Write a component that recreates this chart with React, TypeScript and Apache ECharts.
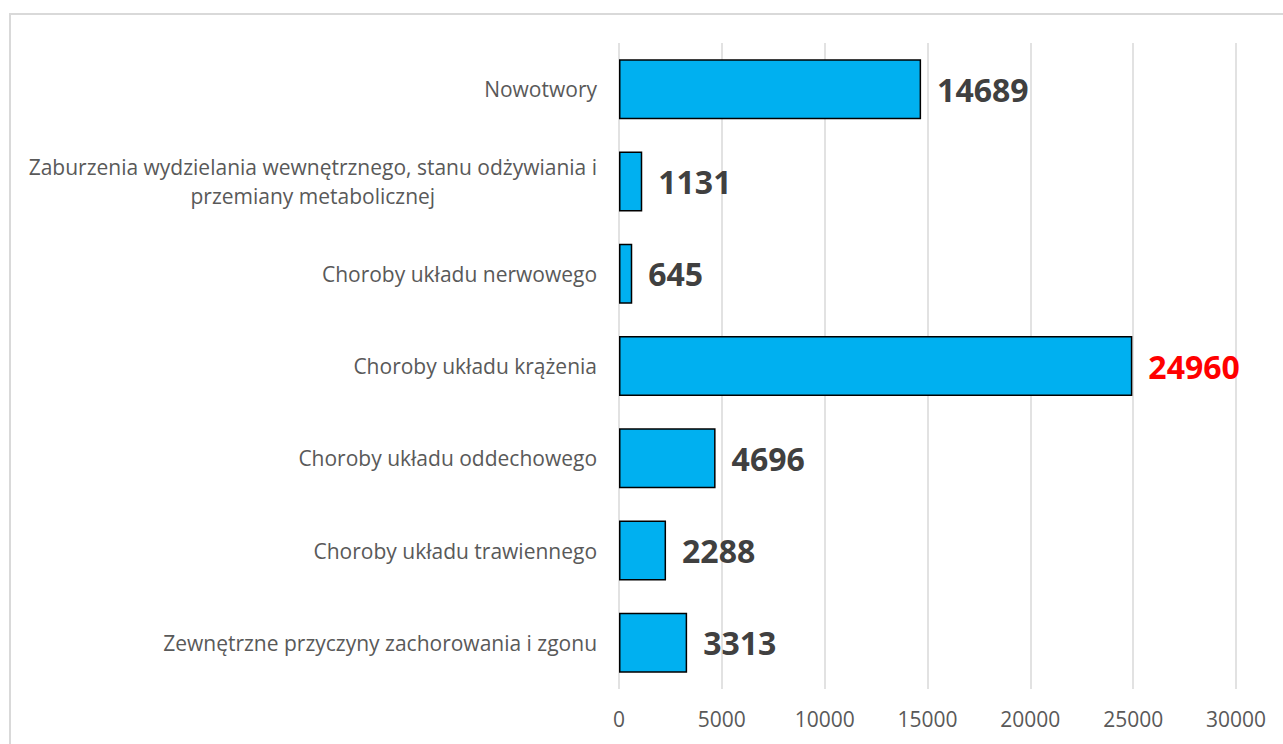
import React, { useEffect, useRef } from "react";
import * as echarts from "echarts";

const categories = [
  "Nowotwory",
  "Zaburzenia wydzielania wewnętrznego, stanu odżywiania i\nprzemiany metabolicznej",
  "Choroby układu nerwowego",
  "Choroby układu krążenia",
  "Choroby układu oddechowego",
  "Choroby układu trawiennego",
  "Zewnętrzne przyczyny zachorowania i zgonu",
];
const values = [14689, 1131, 645, 24960, 4696, 2288, 3313];
const highlighted = [false, false, false, true, false, false, false];
const axisMin = 0;
const axisMax = 30000;
const axisStep = 5000;

export default function App() {
  const ref = useRef<HTMLDivElement>(null);
  useEffect(() => {
    document.body.style.margin = "0";
    const chart = echarts.init(ref.current!, null, { renderer: "svg" });
    const font = "'Open Sans', sans-serif";
    chart.setOption({
      animation: false,
      backgroundColor: "#ffffff",
      graphic: [
        {
          type: "rect",
          shape: { x: 10, y: 14, width: 1400, height: 900 },
          style: { fill: "none", stroke: "#d9d9d9", lineWidth: 2 },
          silent: true,
          z: 0,
        },
      ],
      grid: { left: 619, right: 47, top: 43, bottom: 55, containLabel: false },
      xAxis: {
        type: "value",
        min: axisMin,
        max: axisMax,
        interval: axisStep,
        axisLine: { show: false },
        axisTick: { show: false },
        splitLine: { show: true, lineStyle: { color: "#d9d9d9", width: 1.5 } },
        axisLabel: {
          color: "#595959",
          fontSize: 21,
          fontFamily: font,
          margin: 19,
          formatter: (v: number) => String(v),
        },
      },
      yAxis: {
        type: "category",
        data: categories,
        inverse: true,
        axisLine: { show: false },
        axisTick: { show: false },
        axisLabel: {
          margin: 22,
          formatter: (v: string) =>
            v
              .split("\n")
              .map((l) => "{c|" + l + "}")
              .join("\n"),
          rich: {
            c: {
              align: "center",
              color: "#595959",
              fontSize: 21,
              fontFamily: font,
              lineHeight: 29,
            },
          },
        },
      },
      series: [
        {
          type: "bar",
          barCategoryGap: "35%",
          data: values.map((v, i) => ({
            value: v,
            label: highlighted[i] ? { color: "#ff0000" } : undefined,
          })),
          itemStyle: { color: "#00b0f0", borderColor: "#000000", borderWidth: 1.5 },
          label: {
            show: true,
            position: "right",
            distance: 16,
            color: "#404040",
            fontSize: 32,
            fontWeight: "bold",
            fontFamily: font,
          },
        },
      ],
    });
    return () => chart.dispose();
  }, []);
  return <div ref={ref} style={{ width: 1283, height: 744 }} />;
}
